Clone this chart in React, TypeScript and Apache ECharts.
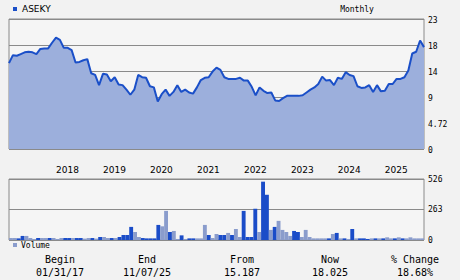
import { useEffect, useRef } from 'react';
import * as echarts from 'echarts';

const symbol = 'ASEKY';
const frequency = 'Monthly';
const startYear = 2017;

const price = [
  15.19, 16.6, 16.5, 16.8, 17.1, 17.2, 17.1, 16.8, 17.7, 17.8,
  17.8, 18.8, 19.7, 19.3, 17.9, 17.9, 17.5, 15.3, 15.4, 15.7,
  15.9, 13.4, 13.1, 11.3, 13.3, 13.2, 12.0, 12.7, 11.4, 11.3,
  10.5, 9.6, 10.5, 13.1, 12.7, 12.6, 11.1, 10.9, 8.4, 9.7,
  10.5, 9.4, 10.1, 11.3, 10.1, 10.5, 10.0, 9.8, 10.9, 12.2,
  12.6, 12.7, 13.7, 14.4, 14.0, 12.7, 12.4, 12.4, 12.4, 12.6,
  12.1, 12.1, 11.0, 9.5, 10.9, 10.3, 9.9, 10.0, 8.6, 8.5,
  9.0, 9.4, 9.4, 9.4, 9.4, 9.5, 10.0, 10.5, 10.9, 11.5,
  12.8, 12.1, 12.2, 11.3, 12.6, 12.4, 13.6, 13.1, 12.9, 11.1,
  10.8, 10.9, 11.3, 10.1, 11.3, 10.2, 10.3, 11.5, 11.5, 12.4,
  12.4, 12.7, 13.9, 16.9, 17.2, 19.2, 18.025,
];

const volume = [
  17, 17, 14, 35, 35, 17, 9, 17, 17, 17,
  17, 17, 9, 17, 17, 17, 17, 17, 17, 12,
  17, 17, 12, 26, 26, 17, 17, 17, 26, 43,
  43, 113, 69, 26, 17, 14, 14, 14, 130, 118,
  251, 69, 78, 9, 40, 9, 14, 14, 14, 14,
  130, 43, 17, 52, 43, 43, 61, 43, 95, 26,
  251, 26, 26, 269, 69, 503, 390, 87, 113, 165,
  87, 69, 35, 78, 69, 26, 87, 26, 14, 14,
  14, 14, 14, 52, 61, 14, 14, 9, 95, 14,
  14, 14, 9, 14, 14, 14, 14, 23, 14, 14,
  23, 14, 14, 23, 14, 14, 14,
];

const volumeUp = [
  0, 0, 1, 1, 0, 0, 0, 1, 0, 0,
  1, 0, 0, 0, 1, 1, 0, 1, 1, 0,
  0, 1, 0, 1, 0, 0, 1, 0, 1, 1,
  1, 1, 0, 0, 1, 1, 1, 1, 1, 0,
  0, 1, 0, 0, 1, 0, 1, 1, 0, 0,
  0, 1, 0, 0, 1, 1, 0, 1, 0, 0,
  1, 1, 1, 1, 0, 1, 1, 0, 1, 0,
  0, 0, 0, 1, 1, 0, 0, 0, 0, 0,
  0, 0, 1, 0, 1, 0, 1, 0, 1, 0,
  1, 1, 1, 0, 1, 0, 1, 0, 0, 1,
  0, 1, 0, 0, 0, 0, 0,
];

const priceTickLabels = ['0', '4.72', '9', '14', '18', '23'];
const volumeTickLabels = ['0', '263', '526'];
const summaryHeaders = ['Begin', 'End', 'From', 'Now', '% Change'];
const summaryValues = ['01/31/17', '11/07/25', '15.187', '18.025', '18.68%'];

const months = price.map(
  (_, i) => `${startYear + Math.floor(i / 12)}-${String((i % 12) + 1).padStart(2, '0')}`
);

const DARK = '#1a4cc8';
const LIGHT = '#8a9ccc';
const LINE = '#1a4fc8';
const FILL = '#9cafdc';
const GRIDC = '#8a8a8a';

export default function App() {
  const ref = useRef<HTMLDivElement>(null);
  useEffect(() => {
    if (!ref.current) return;
    const chart = echarts.init(ref.current, undefined, { renderer: 'svg' });
    const summaryX = [60, 147, 242, 330, 415];
    const graphic: any[] = [
      { type: 'rect', shape: { x: 13, y: 7, width: 4, height: 4 }, style: { fill: LINE } },
      {
        type: 'text', x: 22, y: 9,
        style: { text: symbol, fontFamily: 'DejaVu Sans', fontSize: 9, fill: '#000', verticalAlign: 'middle', textVerticalAlign: 'middle' },
      },
      {
        type: 'text', x: 357, y: 9,
        style: { text: frequency, fontFamily: 'DejaVu Sans Mono', fontSize: 8, fill: '#000', align: 'center', textAlign: 'center', verticalAlign: 'middle', textVerticalAlign: 'middle' },
      },
      { type: 'rect', shape: { x: 13, y: 243, width: 4, height: 4 }, style: { fill: LIGHT } },
      {
        type: 'text', x: 21, y: 245.5,
        style: { text: 'Volume', fontFamily: 'DejaVu Sans Mono', fontSize: 8, fill: '#000', verticalAlign: 'middle', textVerticalAlign: 'middle' },
      },
    ];
    summaryHeaders.forEach((h, i) => {
      graphic.push({
        type: 'text', x: summaryX[i], y: 259.5,
        style: { text: h, fontFamily: 'DejaVu Sans Mono', fontSize: 10, fill: '#000', align: 'center', textAlign: 'center', verticalAlign: 'middle', textVerticalAlign: 'middle' },
      });
      graphic.push({
        type: 'text', x: summaryX[i], y: 272.5,
        style: { text: summaryValues[i], fontFamily: 'DejaVu Sans Mono', fontSize: 10, fill: '#000', align: 'center', textAlign: 'center', verticalAlign: 'middle', textVerticalAlign: 'middle' },
      });
    });

    const axisNoLine = { axisLine: { show: false }, axisTick: { show: false } };

    chart.setOption({
      animation: false,
      backgroundColor: '#f2f2f2',
      grid: [
        { left: 9, top: 19, width: 415, height: 130, show: true, borderColor: GRIDC, borderWidth: 1, backgroundColor: '#f5f5f5' },
        { left: 9, top: 179, width: 415, height: 61, show: true, borderColor: GRIDC, borderWidth: 1, backgroundColor: '#f5f5f5' },
      ],
      xAxis: [
        {
          type: 'category', gridIndex: 0, data: months, boundaryGap: false, ...axisNoLine,
          splitLine: { show: false },
          axisLabel: {
            interval: (i: number) => i > 0 && i % 12 === 0,
            formatter: (v: string) => v.slice(0, 4),
            align: 'left', margin: 16, fontFamily: 'DejaVu Sans', fontSize: 9, color: '#000',
          },
        },
        {
          type: 'category', gridIndex: 1, data: months, boundaryGap: true, ...axisNoLine,
          splitLine: { show: false }, axisLabel: { show: false },
        },
      ],
      yAxis: [
        {
          type: 'value', gridIndex: 0, position: 'right', min: 0, max: 23, interval: 4.6, ...axisNoLine,
          splitLine: { lineStyle: { color: GRIDC, width: 1 } },
          axisLabel: {
            formatter: (v: number) => priceTickLabels[Math.round(v / 4.6)],
            margin: 4, fontFamily: 'DejaVu Sans Mono', fontSize: 8, color: '#000', verticalAlign: 'top', padding: [-3, 0, 0, 0],
          },
        },
        {
          type: 'value', gridIndex: 1, position: 'right', min: 0, max: 526, interval: 263, ...axisNoLine,
          splitLine: { lineStyle: { color: GRIDC, width: 1 } },
          axisLabel: {
            formatter: (v: number) => volumeTickLabels[Math.round(v / 263)],
            margin: 4, fontFamily: 'DejaVu Sans Mono', fontSize: 8, color: '#000',
          },
        },
      ],
      series: [
        {
          type: 'line', xAxisIndex: 0, yAxisIndex: 0, data: price, showSymbol: false,
          lineStyle: { color: LINE, width: 2 }, areaStyle: { color: FILL, opacity: 1 },
        },
        {
          type: 'bar', xAxisIndex: 1, yAxisIndex: 1, barWidth: '100%', barCategoryGap: '0%',
          data: volume.map((v, i) => ({ value: v, itemStyle: { color: volumeUp[i] ? DARK : LIGHT } })),
        },
      ],
      graphic,
    });
    return () => chart.dispose();
  }, []);
  return <div ref={ref} style={{ position: 'fixed', left: 0, top: 0, width: 460, height: 280 }} />;
}
